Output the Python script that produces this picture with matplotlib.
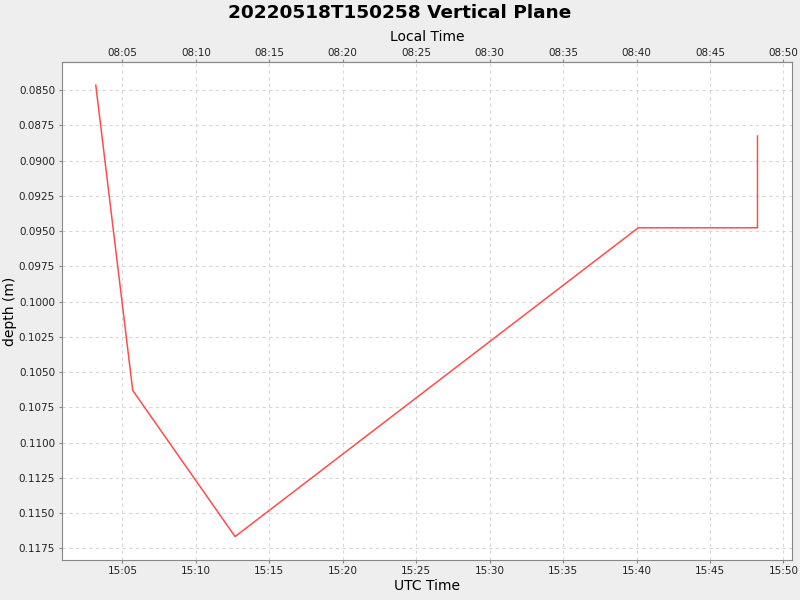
import datetime as dt
import matplotlib
matplotlib.use("Agg")
import matplotlib.pyplot as plt
import matplotlib.dates as mdates

# data (UTC time, depth in m)
utc_times = ["15:03:11", "15:05:42", "15:12:40", "15:40:07", "15:48:14", "15:48:14"]
depth = [0.08465, 0.10631, 0.11667, 0.09477, 0.09477, 0.08826]
y_ticks = [0.0850, 0.0875, 0.0900, 0.0925, 0.0950, 0.0975, 0.1000, 0.1025,
           0.1050, 0.1075, 0.1100, 0.1125, 0.1150, 0.1175]
local_offset_h = -7

day = dt.date(2022, 5, 18)
times = [dt.datetime.combine(day, dt.time.fromisoformat(t)) for t in utc_times]

bg = "#eeeeee"
fig = plt.figure(figsize=(8, 6), dpi=100, facecolor=bg)
ax = fig.add_axes([0.0775, 0.0667, 0.9125, 0.83])
ax.set_facecolor("white")

ax.plot(times, depth, color="#ff4d4d", lw=1.1)

ax.set_xlim(dt.datetime.combine(day, dt.time(15, 0, 53)),
            dt.datetime.combine(day, dt.time(15, 50, 35)))
ax.set_ylim(0.11833, 0.08301)
ax.set_yticks(y_ticks)
ax.yaxis.set_major_formatter(plt.FormatStrFormatter("%.4f"))
ax.xaxis.set_major_locator(mdates.MinuteLocator(byminute=range(0, 60, 5)))
ax.xaxis.set_major_formatter(mdates.DateFormatter("%H:%M"))

ax.grid(True, color="#d8d8d8", ls=(0, (3, 3)), lw=0.8)
for s in ax.spines.values():
    s.set_color("#888888")
ax.tick_params(labelsize=7.5, length=2, color="#888888", labelcolor="#222222")
ax.tick_params(axis="y", pad=3)
ax.tick_params(axis="x", pad=2.5)

off = local_offset_h / 24.0
top = ax.secondary_xaxis("top", functions=(lambda x: x + off, lambda x: x - off))
top.xaxis.set_major_locator(mdates.MinuteLocator(byminute=range(0, 60, 5)))
top.xaxis.set_major_formatter(mdates.DateFormatter("%H:%M"))
top.tick_params(labelsize=7.5, length=2, pad=1, color="#888888", labelcolor="#222222")
top.spines["top"].set_color("#888888")
top.set_xlabel("Local Time", fontsize=10, labelpad=5)

ax.set_xlabel("UTC Time", fontsize=10, labelpad=2)
ax.set_ylabel("depth (m)", fontsize=10)
ax.yaxis.set_label_coords(-0.061, 0.5)
fig.suptitle("20220518T150258 Vertical Plane", fontsize=13.3, fontweight="bold", y=0.993)

fig.savefig("out.png", dpi=100, facecolor=bg)
